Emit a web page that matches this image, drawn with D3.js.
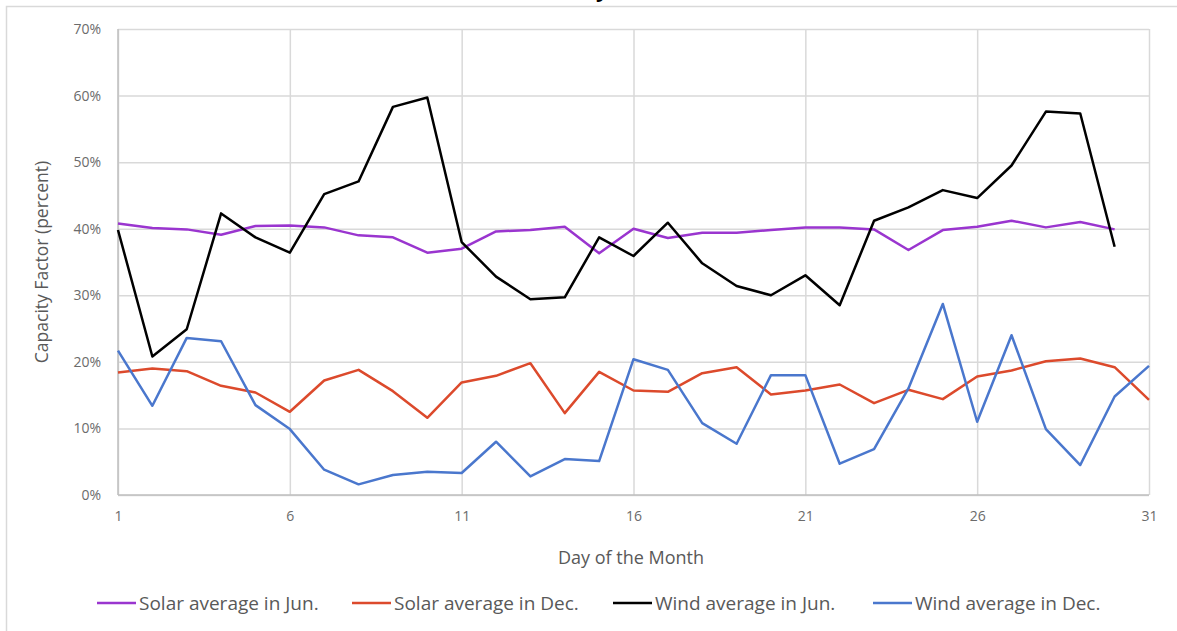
<!DOCTYPE html>
<html>
<head>
<meta charset="utf-8">
<script src="https://cdnjs.cloudflare.com/ajax/libs/d3/7.8.5/d3.min.js"></script>
<style>
  body { margin: 0; background: #fff; }
  svg { display: block; font-family: "Open Sans", sans-serif; }
</style>
</head>
<body>
<div id="chart"></div>
<script>
// values, in percent
var days = d3.range(1, 32);
var solarJun = [40.8, 40.1, 39.9, 39.1, 40.4, 40.5, 40.2, 39.0, 38.7, 36.4, 37.0, 39.6, 39.8, 40.3, 36.3,
  40.0, 38.6, 39.4, 39.4, 39.8, 40.2, 40.2, 39.9, 36.8, 39.8, 40.3, 41.2, 40.2, 41.0, 39.9];
var solarDec = [18.4, 19.0, 18.6, 16.4, 15.4, 12.5, 17.2, 18.8, 15.6, 11.6, 16.9, 17.9, 19.8, 12.3, 18.5,
  15.7, 15.5, 18.3, 19.2, 15.1, 15.7, 16.6, 13.8, 15.8, 14.4, 17.8, 18.7, 20.1, 20.5, 19.2, 14.3];
var windJun = [39.8, 20.8, 24.9, 42.3, 38.7, 36.4, 45.2, 47.1, 58.3, 59.7, 38.0, 32.8, 29.4, 29.7, 38.7,
  35.9, 40.9, 34.8, 31.4, 30.0, 33.0, 28.5, 41.2, 43.2, 45.8, 44.6, 49.5, 57.6, 57.3, 37.3];
var windDec = [21.7, 13.4, 23.6, 23.1, 13.5, 9.9, 3.8, 1.6, 3.0, 3.5, 3.3, 8.0, 2.8, 5.4, 5.1,
  20.4, 18.8, 10.8, 7.7, 18.0, 18.0, 4.7, 6.9, 16.0, 28.7, 11.0, 24.0, 9.9, 4.5, 14.8, 19.4];
var xTicks = [1, 6, 11, 16, 21, 26, 31];
var yTicks = [0, 10, 20, 30, 40, 50, 60, 70];

var series = [
  { name: 'Solar average in Jun.', values: solarJun, color: '#9a35cf' },
  { name: 'Solar average in Dec.', values: solarDec, color: '#dc4a2c' },
  { name: 'Wind average in Jun.', values: windJun, color: '#000000' },
  { name: 'Wind average in Dec.', values: windDec, color: '#4a77cd' }
];

var W = 1177, H = 631;
var margin = { top: 29, right: 28, bottom: 136, left: 118 },
  width = W - margin.left - margin.right,
  height = H - margin.top - margin.bottom;

var svg = d3.select('#chart').append('svg')
  .attr('width', W)
  .attr('height', H);

// outer chart frame (cut off at right and bottom)
svg.append('rect')
  .attr('x', 6.5).attr('y', 6.5)
  .attr('width', 1300).attr('height', 800)
  .attr('fill', 'none')
  .attr('stroke', '#d9d9d9')
  .attr('stroke-width', 1.5);

// cropped title, only a descender shows
svg.append('text')
  .attr('x', 596).attr('y', -3)
  .attr('font-size', 22).attr('font-weight', 'bold')
  .attr('fill', '#000')
  .text('y');

var g = svg.append('g')
  .attr('transform', 'translate(' + margin.left + ',' + margin.top + ')');

var x = d3.scaleLinear().domain([1, 31]).range([0, width]);
var y = d3.scaleLinear().domain([0, 70]).range([height, 0]);

// gridlines
g.append('g')
  .call(d3.axisLeft(y).tickValues(yTicks).tickSize(-width).tickFormat(''))
  .call(s => s.select('.domain').remove())
  .call(s => s.selectAll('line').attr('stroke', '#d9d9d9').attr('stroke-width', 1.5));

g.append('g')
  .attr('transform', 'translate(0,' + height + ')')
  .call(d3.axisBottom(x).tickValues(xTicks).tickSize(-height).tickFormat(''))
  .call(s => s.select('.domain').remove())
  .call(s => s.selectAll('line').attr('stroke', '#d9d9d9').attr('stroke-width', 1.5));

// axis lines
g.append('line')
  .attr('x1', 0).attr('x2', width).attr('y1', height).attr('y2', height)
  .attr('stroke', '#bfbfbf').attr('stroke-width', 1.5);
g.append('line')
  .attr('x1', 0).attr('x2', 0).attr('y1', 0).attr('y2', height)
  .attr('stroke', '#bfbfbf').attr('stroke-width', 1.5);

// tick labels
g.append('g')
  .call(d3.axisLeft(y).tickValues(yTicks).tickSize(0).tickPadding(17).tickFormat(d => d + '%'))
  .call(s => s.select('.domain').remove())
  .call(s => s.selectAll('text').attr('fill', '#6b6b6b').attr('font-size', 14).attr('font-family', '"Open Sans", sans-serif'));

g.append('g')
  .attr('transform', 'translate(0,' + height + ')')
  .call(d3.axisBottom(x).tickValues(xTicks).tickSize(0).tickPadding(16))
  .call(s => s.select('.domain').remove())
  .call(s => s.selectAll('text').attr('fill', '#6b6b6b').attr('font-size', 14).attr('font-family', '"Open Sans", sans-serif'));

// axis titles
svg.append('text')
  .attr('x', 631).attr('y', 564)
  .attr('text-anchor', 'middle')
  .attr('fill', '#595959').attr('font-size', 18)
  .text('Day of the Month');

svg.append('text')
  .attr('transform', 'translate(48,' + (margin.top + height / 2) + ') rotate(-90)')
  .attr('text-anchor', 'middle')
  .attr('fill', '#595959').attr('font-size', 17.5)
  .text('Capacity Factor (percent)');

// lines
var line = d3.line()
  .x((d, i) => x(days[i]))
  .y(d => y(d));

g.selectAll('path.series')
  .data(series)
  .enter()
  .append('path')
    .attr('class', 'series')
    .attr('d', d => line(d.values))
    .attr('fill', 'none')
    .attr('stroke', d => d.color)
    .attr('stroke-width', 2.5)
    .attr('stroke-linejoin', 'round');

// legend
var legendX = [97, 352, 613, 873];
var legend = svg.append('g').selectAll('g')
  .data(series)
  .enter()
  .append('g')
    .attr('transform', (d, i) => 'translate(' + legendX[i] + ',603)');

legend.append('line')
  .attr('x1', 0).attr('x2', 39).attr('y1', 0).attr('y2', 0)
  .attr('stroke', d => d.color).attr('stroke-width', 2.5);

legend.append('text')
  .attr('x', 42).attr('y', 7)
  .attr('fill', '#595959').attr('font-size', 19)
  .text(d => d.name);
</script>
</body>
</html>
